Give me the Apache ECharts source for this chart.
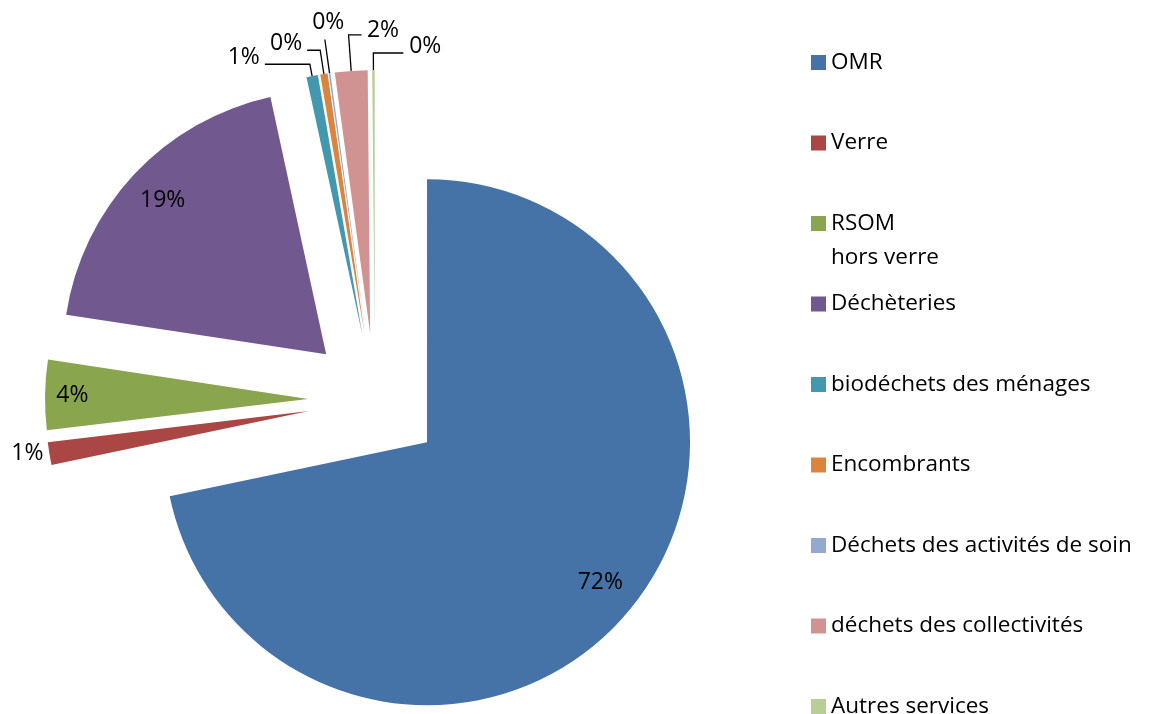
<!DOCTYPE html>
<html>
<head>
<meta charset="utf-8">
<script src="https://cdn.jsdelivr.net/npm/echarts@6/dist/echarts.min.js"></script>
<style>
  html, body { margin: 0; padding: 0; background: #fff; }
  #chart { width: 1151px; height: 714px; }
</style>
</head>
<body>
<div id="chart"></div>
<script>
const categories = [
  'OMR',
  'Verre',
  'RSOM hors verre',
  'Déchèteries',
  'biodéchets des ménages',
  'Encombrants',
  'Déchets des activités de soin',
  'déchets des collectivités',
  'Autres services'
];
const shares = [71.7, 1.4, 4.3, 19.2, 0.7, 0.45, 0.1, 2.0, 0.15];
const colors = ['#4572A7', '#AA4643', '#89A54E', '#71588F', '#4198AF', '#DB843D', '#93A9CF', '#D19392', '#B9CD96'];

const FONT = '"Open Sans"';

// label placement per slice (Excel-like: big ones inside, small ones with leader lines)
// raise: lifts the text above the end of its leader line
const labelTweaks = [
  { line: false, len: -40, len2: 0, dist: -22.5 },
  { line: false, len: 0, len2: 0, dist: 6 },
  { line: false, len: -27, len2: 0, dist: -16.5 },
  { line: false, len: -39, len2: 0, dist: -22.5 },
  { line: true, len: 12, len2: 45, dist: 5, raise: 14 },
  { line: true, len: 24, len2: 13, dist: 5, raise: 14 },
  { line: true, len: 34, len2: 0, dist: -19.5, raise: 34 },
  { line: true, len: 36, len2: -13, dist: -37.5, raise: 10 },
  { line: true, len: 17, len2: -30, dist: -38, raise: 14 }
];

const chart = echarts.init(document.getElementById('chart'));

const pieData = categories.map((name, i) => {
  const t = labelTweaks[i];
  const label = { distanceToLabelLine: t.dist };
  if (t.raise) label.lineHeight = t.raise;
  return {
    name,
    value: shares[i],
    selected: true,
    itemStyle: { color: colors[i] },
    label,
    labelLine: {
      show: t.line,
      length: t.len,
      length2: t.len2,
      minTurnAngle: 0,
      smooth: false
    }
  };
});

chart.setOption({
  animation: false,
  color: colors,
  legend: {
    orient: 'vertical',
    left: 811,
    top: 45.5,
    height: 780,
    padding: 0,
    itemWidth: 15,
    itemHeight: 49,
    itemGap: 12.5,
    // square sits at the top of the item box, level with the first text line
    icon: 'path://M0,0H15V15H0Z M0,48L0,49',
    selectedMode: false,
    data: categories,
    formatter: (name) => name.indexOf(' hors') > 0 ? name.replace(' hors', '\nhors') : name + '\n ',
    textStyle: {
      fontFamily: FONT,
      fontSize: 22.5,
      color: '#000',
      lineHeight: 34
    }
  },
  series: [
    {
      type: 'pie',
      center: [375, 400],
      radius: 263,
      startAngle: 90,
      clockwise: true,
      selectedMode: 'multiple',
      selectedOffset: 67,
      avoidLabelOverlap: false,
      emphasis: { disabled: true },
      label: {
        show: true,
        position: 'outside',
        alignTo: 'none',
        fontFamily: FONT,
        fontSize: 23,
        color: '#000',
        formatter: (p) => Math.round(p.percent) + '%' + (labelTweaks[p.dataIndex].raise ? '\n' : '')
      },
      labelLine: {
        lineStyle: { color: '#000', width: 1.3 }
      },
      itemStyle: { borderWidth: 0 },
      data: pieData
    }
  ]
});
</script>
</body>
</html>
